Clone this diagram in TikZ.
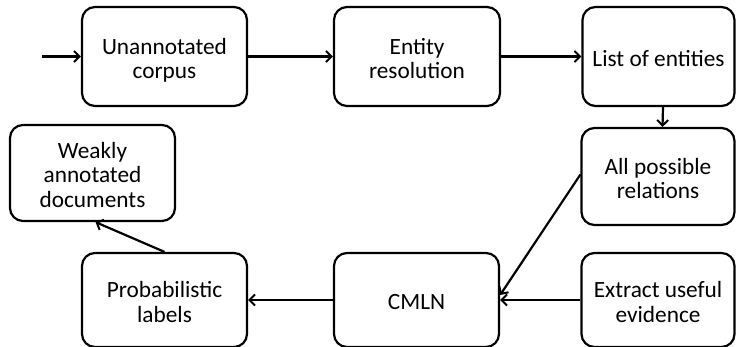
\documentclass[tikz,border=0pt]{standalone}
\usepackage{fontspec}
\setmainfont{Carlito}
\usetikzlibrary{arrows.meta}
\newcommand{\boxlbl}[1]{\raisebox{-5pt}[\height][\depth]{\begin{tabular}{@{}c@{}}#1\end{tabular}}}
\begin{document}
\begin{tikzpicture}[x=1pt,y=-1pt,
  box/.style={draw=black,line width=2.2pt,rounded corners=13pt,align=center,
    font=\fontsize{23.3}{24.5}\selectfont,inner sep=0pt,fill=white},
  arr/.style={line width=2.2pt,-{Straight Barb[length=5.5pt,width=11pt,line width=2pt]}}]
\useasboundingbox (0,0) rectangle (736,347);
\node[box,minimum width=165pt,minimum height=99pt] (A) at (164.5,56.5) {\boxlbl{Unannotated\\corpus}};
\node[box,minimum width=166pt,minimum height=99pt] (B) at (417,56.5) {\boxlbl{Entity\\resolution}};
\node[box,minimum width=152pt,minimum height=99pt] (C) at (658.5,56.5) {\boxlbl{List of entities}};
\node[box,minimum width=153pt,minimum height=97pt] (D) at (658,176.5) {\boxlbl{All possible\\relations}};
\node[box,minimum width=153pt,minimum height=94pt] (E) at (658,300) {\boxlbl{Extract useful\\evidence}};
\node[box,minimum width=165pt,minimum height=94pt] (F) at (416.5,300) {\boxlbl{CMLN}};
\node[box,minimum width=165pt,minimum height=94pt] (G) at (164.5,300) {\boxlbl{Probabilistic\\labels}};
\node[box,minimum width=165pt,minimum height=96pt] (H) at (92.5,173) {\boxlbl{Weakly\\annotated\\documents}};
\coordinate (in) at (42,56.5);
\draw[arr] (in) -- (A.west);
\draw[arr] (A.east) -- (B.west);
\draw[arr] (B.east) -- (C.west);
\draw[arr] ([xshift=4.5pt]C.south) -- ([xshift=4.5pt]D.north);
\draw[arr] ([yshift=2pt]D.west) -- ([yshift=5pt]F.east);
\draw[arr] (E.west) -- (F.east);
\draw[arr] (F.west) -- (G.east);
\draw[arr] (G.north) -- ([xshift=3pt]H.south);
\end{tikzpicture}
\end{document}
